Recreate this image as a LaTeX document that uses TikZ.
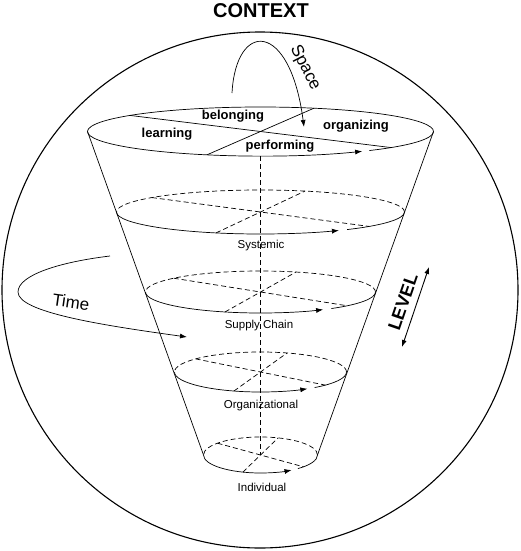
\documentclass[tikz,border=0pt]{standalone}
\usepackage{fontspec}
\setmainfont{Liberation Sans}
\usepackage{tikz}
\usetikzlibrary{calc,arrows.meta}

\begin{document}
\begin{tikzpicture}[x=1pt,y=-1pt,>={Latex[length=7pt,width=5pt]},
    trait/.style={line width=0.7pt},
    pointille/.style={line width=0.7pt,dash pattern=on 5pt off 3pt},
    mot/.style={font=\bfseries\fontsize{13}{15}\selectfont},
    niveau/.style={font=\fontsize{11.5}{13}\selectfont},
    grand/.style={font=\fontsize{17}{19}\selectfont}]

    \useasboundingbox (0,0) rectangle (520,551);

    % Le grand cercle du contexte
    \coordinate (O) at (260,290);
    \draw[line width=1.1pt] (O) circle (258);
    \node[font=\bfseries\fontsize{20}{22}\selectfont] (context) at (261,11) {CONTEXT};

    % Les centres des ellipses
    \coordinate (T) at (260.5,131.5);
    \coordinate (S) at (260.5,212);
    \coordinate (C) at (260.5,292);
    \coordinate (G) at (260.5,372);
    \coordinate (I) at (260.5,455);

    % Ellipse du haut avec ses quatre secteurs
    \draw[trait,->] ($(T)+(51:173 and 24.5)$) arc[start angle=51, end angle=-306, x radius=173, y radius=24.5];
    \draw[trait] ($(T)+(221:173 and 24.5)$) -- ($(T)+(41:173 and 24.5)$);
    \draw[trait] ($(T)+(108:173 and 24.5)$) -- ($(T)+(288:173 and 24.5)$);
    \node[mot] (belonging) at (233,116) {belonging};
    \node[mot] (learning) at (167,134) {learning};
    \node[mot] (organizing) at (356,126) {organizing};
    \node[mot] (performing) at (280,146) {performing};

    % Les bords du cone
    \coordinate (TG) at ($(T)+(180:173 and 24.5)$);
    \coordinate (TD) at ($(T)+(0:173 and 24.5)$);
    \coordinate (IG) at ($(I)+(180:57 and 18)$);
    \coordinate (ID) at ($(I)+(0:57 and 18)$);
    \draw[trait] (TG) -- (IG);
    \draw[trait] (TD) -- (ID);

    % L'axe vertical en pointilles
    \draw[pointille] ($(T)+(90:173 and 24.5)$) -- (I);

    % Niveau systemique
    \draw[pointille] ($(S)+(0:144 and 22)$) arc[start angle=0, end angle=-180, x radius=144, y radius=22];
    \draw[trait,->] ($(S)+(180:144 and 22)$) arc[start angle=180, end angle=57, x radius=144, y radius=22];
    \draw[trait] ($(S)+(53:144 and 22)$) arc[start angle=53, end angle=0, x radius=144, y radius=22];
    \draw[pointille] ($(S)+(221:144 and 22)$) -- ($(S)+(41:144 and 22)$) ($(S)+(108:144 and 22)$) -- ($(S)+(288:144 and 22)$);
    \node[niveau] (systemic) at (261,246) {Systemic};

    % Niveau chaine logistique
    \draw[pointille] ($(C)+(0:115 and 21)$) arc[start angle=0, end angle=-180, x radius=115, y radius=21];
    \draw[trait,->] ($(C)+(180:115 and 21)$) arc[start angle=180, end angle=57, x radius=115, y radius=21];
    \draw[trait] ($(C)+(52:115 and 21)$) arc[start angle=52, end angle=0, x radius=115, y radius=21];
    \draw[pointille] ($(C)+(221:115 and 21)$) -- ($(C)+(41:115 and 21)$) ($(C)+(108:115 and 21)$) -- ($(C)+(288:115 and 21)$);
    \node[niveau] (supply) at (259,326) {Supply Chain};

    % Niveau organisationnel
    \draw[pointille] ($(G)+(0:86 and 20)$) arc[start angle=0, end angle=-180, x radius=86, y radius=20];
    \draw[trait,->] ($(G)+(180:86 and 20)$) arc[start angle=180, end angle=57, x radius=86, y radius=20];
    \draw[trait] ($(G)+(51:86 and 20)$) arc[start angle=51, end angle=0, x radius=86, y radius=20];
    \draw[pointille] ($(G)+(221:86 and 20)$) -- ($(G)+(41:86 and 20)$) ($(G)+(108:86 and 20)$) -- ($(G)+(288:86 and 20)$);
    \node[niveau] (organizational) at (261,406) {Organizational};

    % Niveau individuel
    \draw[pointille] ($(I)+(0:57 and 18)$) arc[start angle=0, end angle=-180, x radius=57, y radius=18];
    \draw[trait,->] ($(I)+(180:57 and 18)$) arc[start angle=180, end angle=57, x radius=57, y radius=18];
    \draw[trait] ($(I)+(49:57 and 18)$) arc[start angle=49, end angle=0, x radius=57, y radius=18];
    \draw[pointille] ($(I)+(221:57 and 18)$) -- ($(I)+(41:57 and 18)$) ($(I)+(108:57 and 18)$) -- ($(I)+(288:57 and 18)$);
    \node[niveau] (individual) at (262,487) {Individual};

    % La fleche de l'espace
    \coordinate (espaceA) at (232,93);
    \coordinate (espaceB) at (304,127);
    \draw[trait,->] (espaceA) .. controls (236,20) and (290,20) .. (espaceB);
    \node[grand,rotate=-63] (space) at (305,68) {Space};

    % La fleche du temps
    \coordinate (tempsA) at (110,256);
    \coordinate (tempsM) at (18,292);
    \coordinate (tempsB) at (187,337);
    \draw[trait,->] (tempsA) .. controls (60,262) and (18,275) .. (tempsM) .. controls (18,312) and (100,325) .. (tempsB);
    \node[grand,rotate=-8] (time) at (71,302) {Time};

    % La double fleche du niveau
    \coordinate (bas) at (402,347);
    \coordinate (haut) at (429,267);
    \draw[line width=0.9pt,<->] (bas) -- (haut);
    \node[font=\bfseries\fontsize{18}{20}\selectfont,rotate=71] (level) at (403,302) {LEVEL};
\end{tikzpicture}
\end{document}
